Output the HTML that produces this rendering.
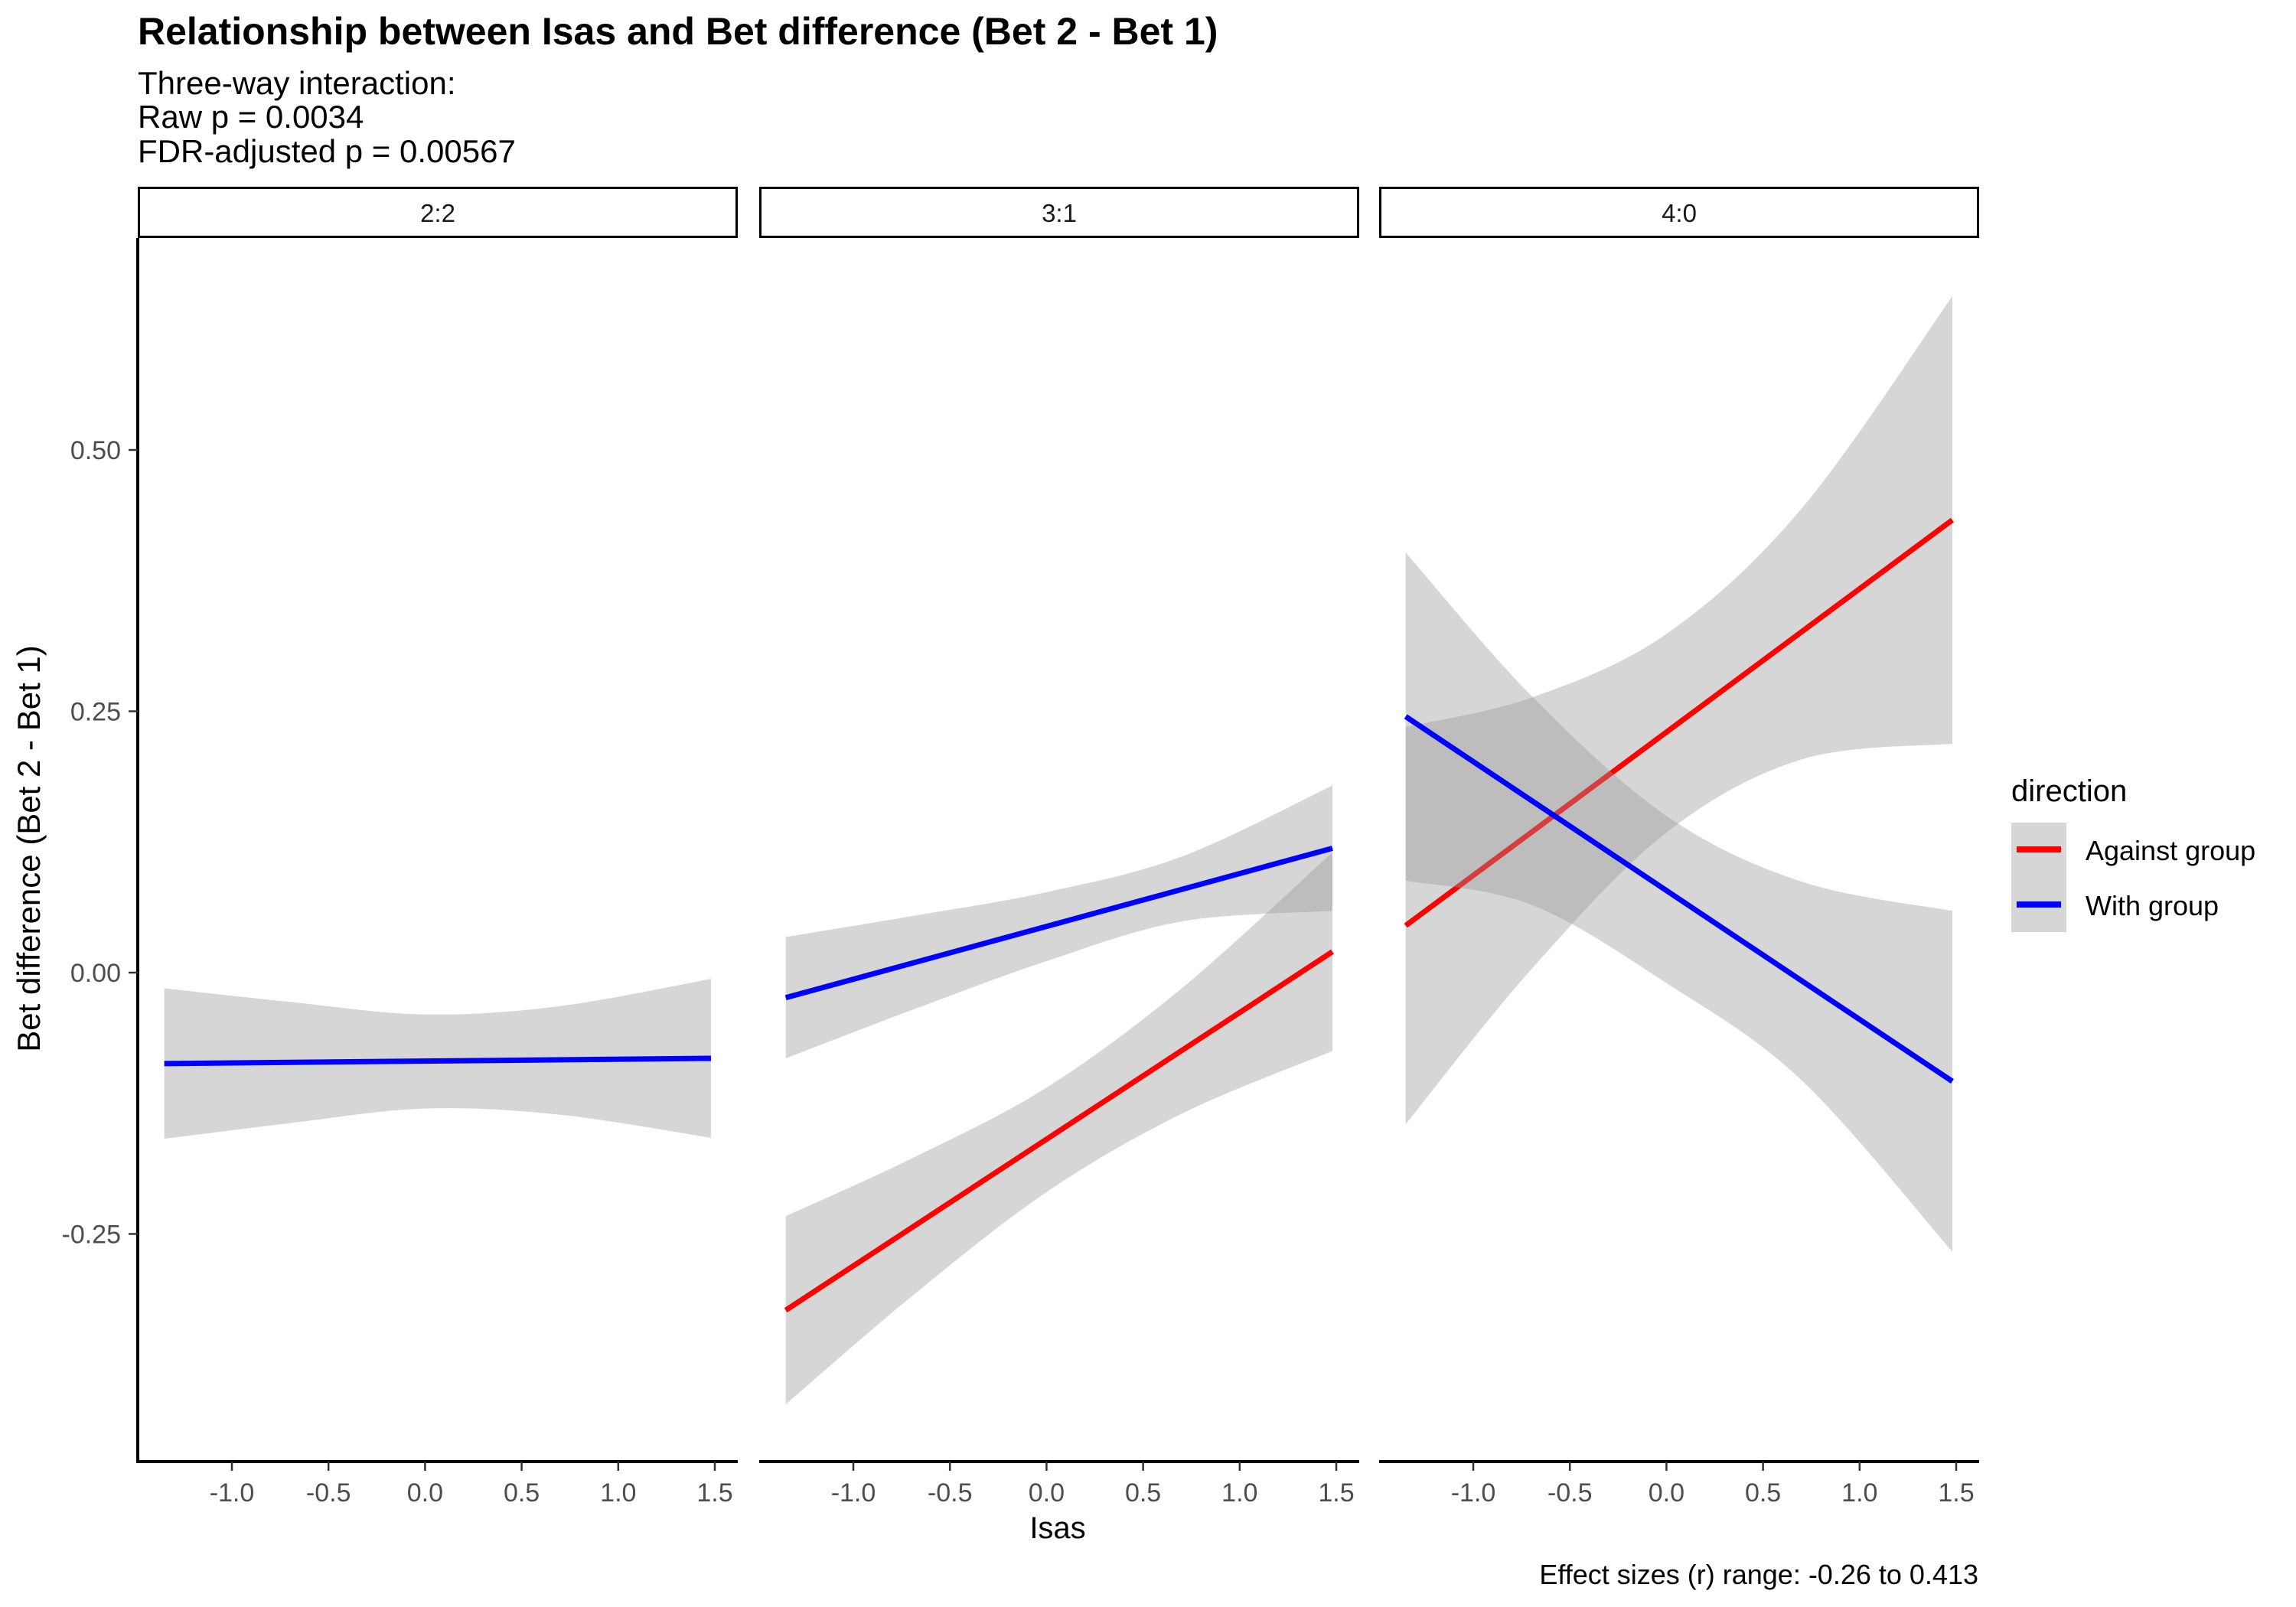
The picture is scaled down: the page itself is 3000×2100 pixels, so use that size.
<!DOCTYPE html>
<html><head><meta charset="utf-8"><style>
html,body{margin:0;padding:0;background:#fff;}
svg{display:block;font-family:"Liberation Sans",Arial,sans-serif;}
</style></head><body>
<svg id="chart" width="3000" height="2100" viewBox="0 0 3000 2100" xmlns="http://www.w3.org/2000/svg">
<text x="180" y="58" font-size="50" font-weight="bold" fill="#000">Relationship between Isas and Bet difference (Bet 2 - Bet 1)</text>
<text x="180" y="123" font-size="42" fill="#000">Three-way interaction:</text>
<text x="180" y="167" font-size="42" fill="#000">Raw p = 0.0034</text>
<text x="180" y="212" font-size="42" fill="#000">FDR-adjusted p = 0.00567</text>
<text transform="translate(52,1109) rotate(-90)" text-anchor="middle" font-size="42" fill="#000">Bet difference (Bet 2 - Bet 1)</text>
<text x="1382" y="2010" text-anchor="middle" font-size="40" fill="#000">Isas</text>
<text x="2585" y="2070" text-anchor="end" font-size="36" fill="#000">Effect sizes (r) range: -0.26 to 0.413</text>
<g>
<text x="2628" y="1047" font-size="40" fill="#000">direction</text>
<rect x="2628" y="1075" width="72" height="143" fill="#d6d6d6"/>
<line x1="2635" y1="1110" x2="2693" y2="1110" stroke="#ff0000" stroke-width="8"/>
<line x1="2635" y1="1182" x2="2693" y2="1182" stroke="#0000ff" stroke-width="8"/>
<text x="2725" y="1124" font-size="36" fill="#000">Against group</text>
<text x="2725" y="1196" font-size="36" fill="#000">With group</text>
</g>
<g id="plot"></g>
</svg>
<script>
const panels = ["2:2", "3:1", "4:0"];
const xTicks = [-1.0, -0.5, 0.0, 0.5, 1.0, 1.5];
const xTickLabels = ["-1.0", "-0.5", "0.0", "0.5", "1.0", "1.5"];
const yTicks = [0.5, 0.25, 0.0, -0.25];
const yTickLabels = ["0.50", "0.25", "0.00", "-0.25"];
const ribbonX = [-1.35, -0.7, 0, 0.7, 1.48];
// panel 2:2, With group
const p1WithFit = [-0.087, -0.086, -0.085, -0.084, -0.082];
const p1WithUpper = [-0.015, -0.028, -0.040, -0.032, -0.006];
const p1WithLower = [-0.159, -0.144, -0.130, -0.136, -0.158];
// panel 3:1
const p2AgainstFit = [-0.323, -0.244, -0.160, -0.075, 0.020];
const p2AgainstUpper = [-0.233, -0.178, -0.110, -0.015, 0.115];
const p2AgainstLower = [-0.413, -0.310, -0.210, -0.135, -0.075];
const p2WithFit = [-0.024, 0.009, 0.044, 0.080, 0.119];
const p2WithUpper = [0.034, 0.054, 0.077, 0.111, 0.179];
const p2WithLower = [-0.082, -0.036, 0.011, 0.049, 0.059];
// panel 4:0
const p3AgainstFit = [0.045, 0.133, 0.229, 0.324, 0.433];
const p3AgainstUpper = [0.235, 0.263, 0.324, 0.444, 0.647];
const p3AgainstLower = [-0.145, 0.003, 0.134, 0.204, 0.219];
const p3WithFit = [0.245, 0.165, 0.070, -0.008, -0.104];
const p3WithUpper = [0.402, 0.265, 0.150, 0.087, 0.059];
const p3WithLower = [0.088, 0.065, -0.010, -0.103, -0.267];

const series = [
  [{c:"#0000ff",f:p1WithFit,u:p1WithUpper,l:p1WithLower,n:"with"}],
  [{c:"#ff0000",f:p2AgainstFit,u:p2AgainstUpper,l:p2AgainstLower,n:"against"},{c:"#0000ff",f:p2WithFit,u:p2WithUpper,l:p2WithLower,n:"with"}],
  [{c:"#ff0000",f:p3AgainstFit,u:p3AgainstUpper,l:p3AgainstLower,n:"against"},{c:"#0000ff",f:p3WithFit,u:p3WithUpper,l:p3WithLower,n:"with"}]
];
const NS = "http://www.w3.org/2000/svg";
const plotG = document.getElementById("plot");
const panelLeft = [180, 992, 1802], panelW = 784, plotTop = 311, plotBottom = 1910;
function xs(p, v){ return panelLeft[p] + 123 + (v + 1.0) * 252.4; }
function ys(v){ return 1271 - v * 1366; }
function mk(tag, attrs, parent){ const e = document.createElementNS(NS, tag); for (const k in attrs) e.setAttribute(k, attrs[k]); (parent||plotG).appendChild(e); return e; }
function smooth(pts, move){
  let d = move ? ("M" + pts[0][0] + "," + pts[0][1]) : ("L" + pts[0][0] + "," + pts[0][1]);
  for (let i = 0; i < pts.length - 1; i++){
    const p0 = pts[Math.max(0,i-1)], p1 = pts[i], p2 = pts[i+1], p3 = pts[Math.min(pts.length-1,i+2)];
    const c1 = [p1[0]+(p2[0]-p0[0])/6, p1[1]+(p2[1]-p0[1])/6];
    const c2 = [p2[0]-(p3[0]-p1[0])/6, p2[1]-(p3[1]-p1[1])/6];
    d += " C"+c1[0]+","+c1[1]+" "+c2[0]+","+c2[1]+" "+p2[0]+","+p2[1];
  }
  return d;
}
panels.forEach((name, p) => {
  const g = mk("g", {});
  
  
  const strip = mk("rect", {x: panelLeft[p]+1.5, y: 245.5, width: panelW-3, height: 64, fill: "#fff", stroke: "#000", "stroke-width": 3}, g);
  
  
  const st = mk("text", {x: panelLeft[p]+panelW/2, y: 290, "text-anchor": "middle", "font-size": 33, fill: "#1a1a1a"}, g);
  st.textContent = name;
  
  
  series[p].forEach(s => {
    const up = ribbonX.map((x,i) => [xs(p,x), ys(s.u[i])]);
    const lo = ribbonX.map((x,i) => [xs(p,x), ys(s.l[i])]).reverse();
    const d = smooth(up, true) + " " + smooth(lo, false) + " Z";
    const rib = mk("path", {d: d, fill: "rgba(153,153,153,0.4)", stroke: "none"}, g);
    
    
    const n = s.f.length - 1;
    const ln = mk("line", {x1: xs(p, ribbonX[0]), y1: ys(s.f[0]), x2: xs(p, ribbonX[n]), y2: ys(s.f[n]), stroke: s.c, "stroke-width": 7}, g);
    
    
  });
  const ax = mk("line", {x1: panelLeft[p], y1: plotBottom, x2: panelLeft[p]+panelW, y2: plotBottom, stroke: "#000", "stroke-width": 4}, g);
  
  
  xTicks.forEach((t, i) => {
    const tk = mk("line", {x1: xs(p,t), y1: plotBottom, x2: xs(p,t), y2: plotBottom+12, stroke: "#333", "stroke-width": 2.5}, g);
    
    
    const tl = mk("text", {x: xs(p,t), y: 1962, "text-anchor": "middle", "font-size": 34, fill: "#4d4d4d"}, g);
    tl.textContent = xTickLabels[i];
    
    
  });
});
const yax = mk("line", {x1: 180, y1: plotTop, x2: 180, y2: plotBottom+2, stroke: "#000", "stroke-width": 4});


yTicks.forEach((t, i) => {
  const tk = mk("line", {x1: 168, y1: ys(t), x2: 180, y2: ys(t), stroke: "#333", "stroke-width": 2.5});
  
  
  const tl = mk("text", {x: 158, y: ys(t)+12, "text-anchor": "end", "font-size": 34, fill: "#4d4d4d"});
  tl.textContent = yTickLabels[i];
  
  
});
</script>
</body></html>
